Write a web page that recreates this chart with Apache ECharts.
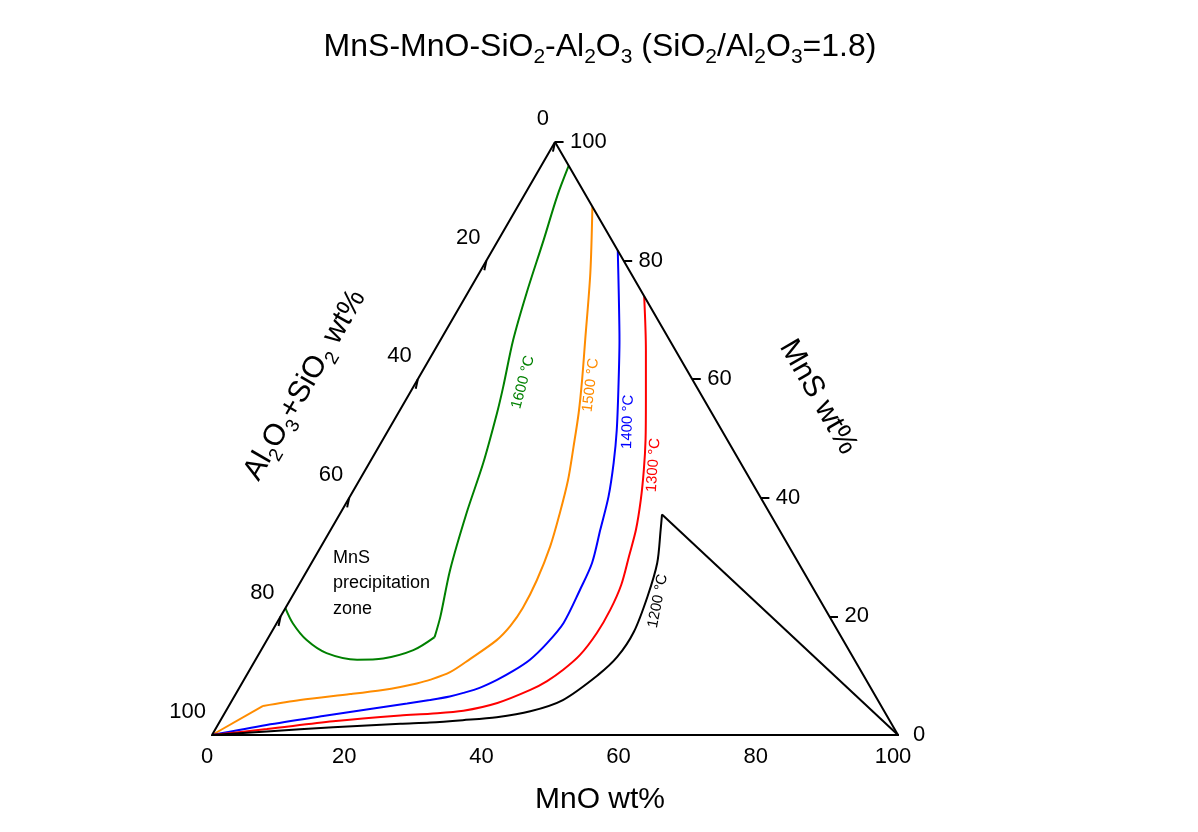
<!DOCTYPE html>
<html><head><meta charset="utf-8">
<script src="https://cdn.jsdelivr.net/npm/echarts@6/dist/echarts.min.js"></script>
<style>html,body{margin:0;padding:0;background:#fff}#c{width:1198px;height:832px}</style>
</head><body><div id="c"></div>
<script>
// Ternary compositions: [MnO wt%, MnS wt%]  (Al2O3+SiO2 = 100 - MnO - MnS)
const curve1600 = [[4.0,96.0],[4.9,90.8],[6.6,83.5],[8.6,74.5],[10.6,66.6],[13.1,58.7],[14.4,54.3],[16.6,45.9],[18.4,37.4],[20.8,27.8],[23.3,20.0],[24.2,16.5],[22.2,14.3],[18.5,12.9],[14.8,12.7],[9.8,13.8],[5.8,16.0],[2.4,18.8],[0,21.4]];
const curve1500 = [[10.9,89.1],[16.2,77.9],[21.1,66.6],[24.0,59.9],[26.3,54.3],[28.4,48.6],[30.4,43.0],[32.0,37.4],[33.4,31.8],[34.3,26.1],[34.6,21.4],[34.3,18.4],[33.5,16.0],[31.2,12.8],[29.4,10.6],[27.1,9.3],[25.5,8.7],[23.4,8.1],[21.1,7.6],[16.7,6.9],[9.9,5.9],[5.0,4.9],[0,0]];
const curve1400 = [[18.3,81.7],[22.2,74.2],[26.1,66.6],[29.9,58.7],[33.3,51.4],[35.6,45.9],[37.7,40.2],[39.3,34.6],[40.9,29.0],[41.4,24.5],[41.8,18.9],[41.1,15.5],[40.0,12.7],[38.5,10.8],[36.9,9.3],[35.1,8.0],[33.1,7.1],[31.4,6.5],[28.8,5.9],[25.8,5.3],[20.4,4.3],[14.6,3.2],[7.1,1.7],[0,0]];
const curve1300 = [[26.0,74.0],[30.8,64.9],[35.0,56.5],[38.3,49.8],[40.6,44.7],[42.7,39.6],[44.5,34.6],[45.7,30.2],[47.0,25.3],[47.5,21.1],[47.5,17.2],[46.9,13.5],[45.7,11.0],[44.3,9.1],[42.6,7.6],[38.9,5.4],[34.6,4.1],[30.0,3.6],[25.8,3.3],[16.5,2.3],[7.5,1.0],[0,0]];
const curve1200 = [[47.0,37.2],[48.1,34.6],[50.4,29.0],[51.8,23.4],[52.8,17.4],[52.5,13.2],[51.2,10.1],[48.2,5.9],[44.4,4.0],[40.0,3.0],[35.3,2.5],[30.7,2.1],[26.5,1.9],[17.0,1.3],[7.7,0.6],[0,0]];
const tieLine1200 = [[47.0,37.2],[100,0]];
const frame = [[0,0],[100,0],[0,100],[0,0]];

const curveNames = ['1600 °C','1500 °C','1400 °C','1300 °C','1200 °C'];
const curveColors = ['#008000','#ff8c00','#0000ff','#ff0000','#000000'];
// index of a sharp corner inside each curve (-1 = none)
const curveKinks = [11, 21, -1, -1, -1];
// label anchor compositions [MnO, MnS] and text angle
const tempLabelPos = [[15.6,59.5],[25.7,59.0],[34.2,52.8],[41.6,45.5],[53.7,22.6]];
const tempLabelRot = [75,83,88,86,79];

const tickValues = [0,20,40,60,80,100];
const tickLabels = ['0','20','40','60','80','100'];

const S3 = Math.sqrt(3) / 2;
const toXY = p => [p[0] + p[1] / 2, p[1] * S3];

const FONT = 'Liberation Sans, Arial, Helvetica, sans-serif';

const curves = [curve1600, curve1500, curve1400, curve1300, curve1200];
const series = [];

series.push({type:'line', data: frame.map(toXY), symbol:'none', lineStyle:{color:'#000', width:2}, z:5, silent:true, animation:false});
curves.forEach((c,i) => {
  const k = curveKinks[i];
  const parts = k > 0 ? [c.slice(0, k+1), c.slice(k)] : [c];
  parts.forEach(part => {
    series.push({type:'line', data: part.map(toXY), symbol:'none', smooth:0.3,
      lineStyle:{color: curveColors[i], width:2}, z:4, silent:true, animation:false});
  });
});
series.push({type:'line', data: tieLine1200.map(toXY), symbol:'none', lineStyle:{color:'#000', width:2}, z:4, silent:true, animation:false});

// ticks
const tickSegs = [];
tickValues.forEach(v => {
  const b = toXY([v,0]); tickSegs.push({coords:[b,[b[0]-0.6,b[1]-1.05]]});
  const r = toXY([100-v,v]); tickSegs.push({coords:[r,[r[0]+1.25,r[1]]]});
  const l = toXY([0,100-v]); tickSegs.push({coords:[l,[l[0]-0.3,l[1]-1.4]]});
});
series.push({type:'lines', coordinateSystem:'cartesian2d', data: tickSegs, lineStyle:{color:'#000', width:2, opacity:1}, silent:true, animation:false, z:5});

const lblBase = {show:true, position:'inside', color:'#000', opacity:1, fontSize:22, fontFamily:FONT, textBorderWidth:0};
const hidden = {color:'rgba(0,0,0,0)'};
const mkLabelSeries = (pts, extra) => ({type:'scatter', symbolSize:1, itemStyle:hidden, silent:true, animation:false,
  label:{...lblBase, ...extra},
  data: pts.map((p,i)=>({value:p, label:{...lblBase, ...extra, formatter: tickLabels[i]}}))});
series.push(mkLabelSeries(tickValues.map(v=>toXY([v,0])), {align:'center', verticalAlign:'middle', offset:[-5,22]}));
series.push(mkLabelSeries(tickValues.map(v=>toXY([100-v,v])), {align:'left', verticalAlign:'middle', offset:[15,0]}));
series.push(mkLabelSeries(tickValues.map(v=>toXY([0,100-v])), {align:'right', verticalAlign:'middle', offset:[-6,-23]}));
// temperature labels
series.push({type:'scatter', symbolSize:1, itemStyle:hidden, silent:true, animation:false,
  data: tempLabelPos.map((p,i)=>({value: toXY(p), label:{show:true, position:'inside', formatter: curveNames[i], rotate: tempLabelRot[i], color: curveColors[i], opacity:1, fontSize:15, fontFamily:FONT, align:'center', verticalAlign:'middle', textBorderWidth:0}}))});

const subRich = (main, sub, off) => ({
  m:{fontSize:main, fontFamily:FONT, color:'#000', lineHeight: main+10, verticalAlign:'middle'},
  s:{fontSize:sub, fontFamily:FONT, color:'#000', lineHeight: Math.max(4, (main+10) - 2*off), verticalAlign:'bottom'}
});

const chart = echarts.init(document.getElementById('c'), null, {renderer:'canvas'});
chart.setOption({
  backgroundColor:'#fff',
  animation:false,
  textStyle:{color:'#000', fontFamily:FONT},
  grid:{left:212, right:300, top:142, bottom:97, containLabel:false},
  xAxis:{type:'value', min:0, max:100, show:false},
  yAxis:{type:'value', min:0, max:100*S3, show:false},
  graphic:[
    {type:'text', x:600, y:47, style:{text:'{m|MnS-MnO-SiO}{s|2}{m|-Al}{s|2}{m|O}{s|3}{m| (SiO}{s|2}{m|/Al}{s|2}{m|O}{s|3}{m|=1.8)}',
      align:'center', verticalAlign:'middle', rich: subRich(32,21,15)}},
    {type:'text', x:600, y:800, style:{text:'MnO wt%', font:'30px '+FONT, fill:'#000', align:'center', verticalAlign:'middle'}},
    {type:'text', x:305, y:385, rotation: Math.PI/3, style:{text:'{m|Al}{s|2}{m|O}{s|3}{m|+SiO}{s|2}{m| wt%}', align:'center', verticalAlign:'middle', rich: subRich(30,19,12)}},
    {type:'text', x:818, y:397, rotation: -Math.PI/3, style:{text:'MnS wt%', font:'30px '+FONT, fill:'#000', align:'center', verticalAlign:'middle'}},
    {type:'text', x:333, y:545, style:{text:'MnS\nprecipitation\nzone', font:'18px '+FONT, lineHeight:25.5, fill:'#000', align:'left', verticalAlign:'top'}}
  ],
  series: series
});
</script></body></html>
